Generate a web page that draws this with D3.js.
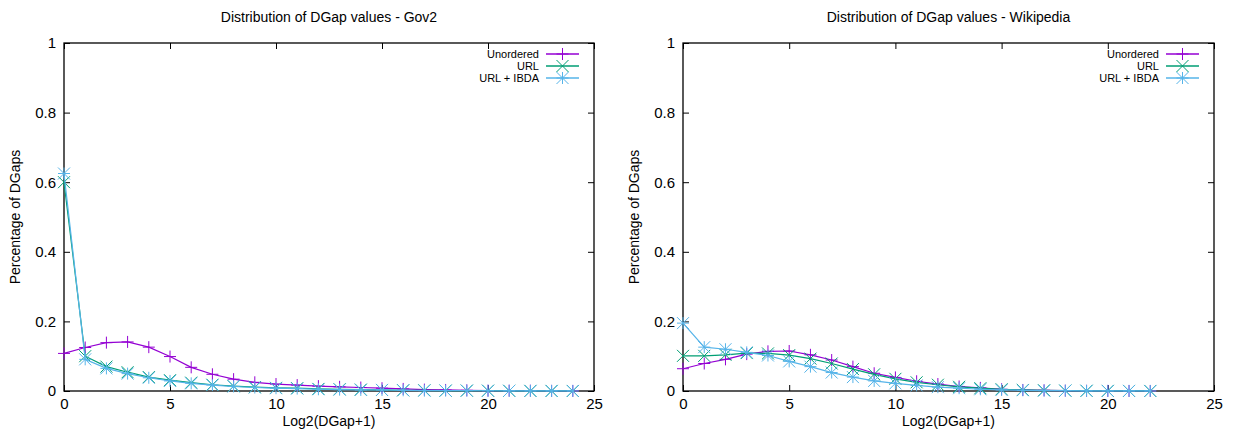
<!DOCTYPE html>
<html>
<head>
<meta charset="utf-8">
<script src="https://cdn.jsdelivr.net/npm/d3@7"></script>
<style>
  body { margin: 0; background: #fff; }
  svg { display: block; font-family: "Liberation Sans", Arial, sans-serif; }
</style>
</head>
<body>
<svg id="chart" width="1237" height="429"></svg>
<script>
// Log2(DGap+1) buckets
const gov2X = d3.range(0, 25);
const wikiX = d3.range(0, 23);

// Gov2 fractions per bucket
const gov2Unordered = [0.108, 0.125, 0.139, 0.141, 0.126, 0.099, 0.068, 0.048, 0.034, 0.025, 0.020, 0.017, 0.014, 0.012, 0.010, 0.008, 0.006, 0.004, 0.003, 0.002, 0.001, 0.001, 0.001, 0.0005, 0.0003];
const gov2URL       = [0.600, 0.100, 0.070, 0.054, 0.040, 0.031, 0.024, 0.018, 0.014, 0.011, 0.009, 0.008, 0.006, 0.005, 0.004, 0.003, 0.002, 0.002, 0.001, 0.001, 0.0008, 0.0005, 0.0003, 0.0002, 0.0001];
const gov2IBDA      = [0.625, 0.091, 0.065, 0.050, 0.038, 0.029, 0.022, 0.017, 0.013, 0.010, 0.008, 0.007, 0.005, 0.004, 0.003, 0.003, 0.002, 0.001, 0.001, 0.001, 0.0007, 0.0005, 0.0003, 0.0002, 0.0001];

// Wikipedia fractions per bucket
const wikiUnordered = [0.064, 0.079, 0.091, 0.106, 0.114, 0.115, 0.104, 0.089, 0.070, 0.051, 0.039, 0.028, 0.020, 0.013, 0.009, 0.005, 0.003, 0.002, 0.001, 0.0006, 0.0003, 0.0002, 0.0001];
const wikiURL       = [0.101, 0.101, 0.104, 0.109, 0.108, 0.103, 0.093, 0.079, 0.063, 0.048, 0.035, 0.025, 0.018, 0.012, 0.008, 0.005, 0.003, 0.002, 0.001, 0.0006, 0.0003, 0.0002, 0.0001];
const wikiIBDA      = [0.195, 0.126, 0.120, 0.111, 0.102, 0.085, 0.070, 0.053, 0.040, 0.029, 0.022, 0.016, 0.011, 0.008, 0.005, 0.003, 0.002, 0.001, 0.001, 0.0005, 0.0003, 0.0002, 0.0001];

const seriesNames = ["Unordered", "URL", "URL + IBDA"];
const seriesColors = ["#9400d3", "#009e73", "#56b4e9"];
const seriesMarkers = ["plus", "cross", "star"];

const xTicks = [0, 5, 10, 15, 20, 25];
const yTicks = [0, 0.2, 0.4, 0.6, 0.8, 1];

const svg = d3.select("#chart");

function marker(g, kind, color) {
  const s = 6;
  const p = d3.path();
  if (kind === "plus" || kind === "star") {
    p.moveTo(-s, 0); p.lineTo(s, 0);
    p.moveTo(0, -s); p.lineTo(0, s);
  }
  if (kind === "cross" || kind === "star") {
    p.moveTo(-s, -s); p.lineTo(s, s);
    p.moveTo(-s, s); p.lineTo(s, -s);
  }
  g.append("path").attr("d", p.toString())
    .attr("stroke", color).attr("stroke-width", 1).attr("fill", "none");
}

function panel(cfg) {
  const { left, right, top, bottom, title, xs, series } = cfg;
  const x = d3.scaleLinear().domain([0, 25]).range([left, right]);
  const y = d3.scaleLinear().domain([0, 1]).range([bottom, top]);
  const g = svg.append("g");

  // Axes with inward ticks, mirrored on top and right
  const tick = 6;
  const ax = g.append("g").attr("transform", `translate(0,${bottom})`)
    .call(d3.axisBottom(x).tickValues(xTicks).tickSize(-tick).tickPadding(7).tickFormat(d3.format("d")));
  const axT = g.append("g").attr("transform", `translate(0,${top})`)
    .call(d3.axisTop(x).tickValues(xTicks).tickSize(-tick).tickFormat(""));
  const ay = g.append("g").attr("transform", `translate(${left},0)`)
    .call(d3.axisLeft(y).tickValues(yTicks).tickSize(-tick).tickPadding(8).tickFormat(d => d === 0 || d === 1 ? d3.format("d")(d) : d3.format(".1f")(d)));
  const ayR = g.append("g").attr("transform", `translate(${right},0)`)
    .call(d3.axisRight(y).tickValues(yTicks).tickSize(-tick).tickFormat(""));
  [ax, axT, ay, ayR].forEach(a => {
    a.select(".domain").remove();
    a.selectAll("line").attr("stroke", "#000");
    a.selectAll("text").attr("font-size", 15).attr("fill", "#000")
      .attr("font-family", "'Liberation Sans', Arial, sans-serif");
  });
  ax.selectAll("text").attr("dy", "0.71em");

  g.append("rect").attr("x", left).attr("y", top)
    .attr("width", right - left).attr("height", bottom - top)
    .attr("fill", "none").attr("stroke", "#000").attr("stroke-width", 1.3);

  // Data lines and markers
  const line = d3.line().x((d, i) => x(xs[i])).y(d => y(d));
  series.forEach((vals, k) => {
    g.append("path").datum(vals).attr("d", line)
      .attr("fill", "none").attr("stroke", seriesColors[k]).attr("stroke-width", 1.2);
    vals.forEach((v, i) => {
      const m = g.append("g").attr("transform", `translate(${x(xs[i])},${y(v)})`);
      marker(m, seriesMarkers[k], seriesColors[k]);
    });
  });

  // Legend
  seriesNames.forEach((name, k) => {
    const ly = top + 11 + k * 12;
    const lx = right - 55;
    g.append("text").attr("x", lx).attr("y", ly).attr("dy", "0.35em")
      .attr("text-anchor", "end").attr("font-size", 11).text(name);
    g.append("line").attr("x1", lx + 7).attr("x2", lx + 40).attr("y1", ly).attr("y2", ly)
      .attr("stroke", seriesColors[k]).attr("stroke-width", 1.5);
    const m = g.append("g").attr("transform", `translate(${lx + 23.5},${ly})`);
    marker(m, seriesMarkers[k], seriesColors[k]);
  });

  // Title and axis labels
  g.append("text").attr("x", (left + right) / 2).attr("y", 22)
    .attr("text-anchor", "middle").attr("font-size", 14).text(title);
  g.append("text").attr("x", (left + right) / 2).attr("y", 426)
    .attr("text-anchor", "middle").attr("font-size", 14).text("Log2(DGap+1)");
  g.append("text").attr("transform", `translate(${left - 44},${(top + bottom) / 2}) rotate(-90)`)
    .attr("text-anchor", "middle").attr("font-size", 14).text("Percentage of DGaps");
}

panel({ left: 64, right: 594, top: 43, bottom: 391,
  title: "Distribution of DGap values - Gov2", xs: gov2X,
  series: [gov2Unordered, gov2URL, gov2IBDA] });
panel({ left: 683, right: 1214, top: 43, bottom: 391,
  title: "Distribution of DGap values - Wikipedia", xs: wikiX,
  series: [wikiUnordered, wikiURL, wikiIBDA] });
</script>
</body>
</html>
